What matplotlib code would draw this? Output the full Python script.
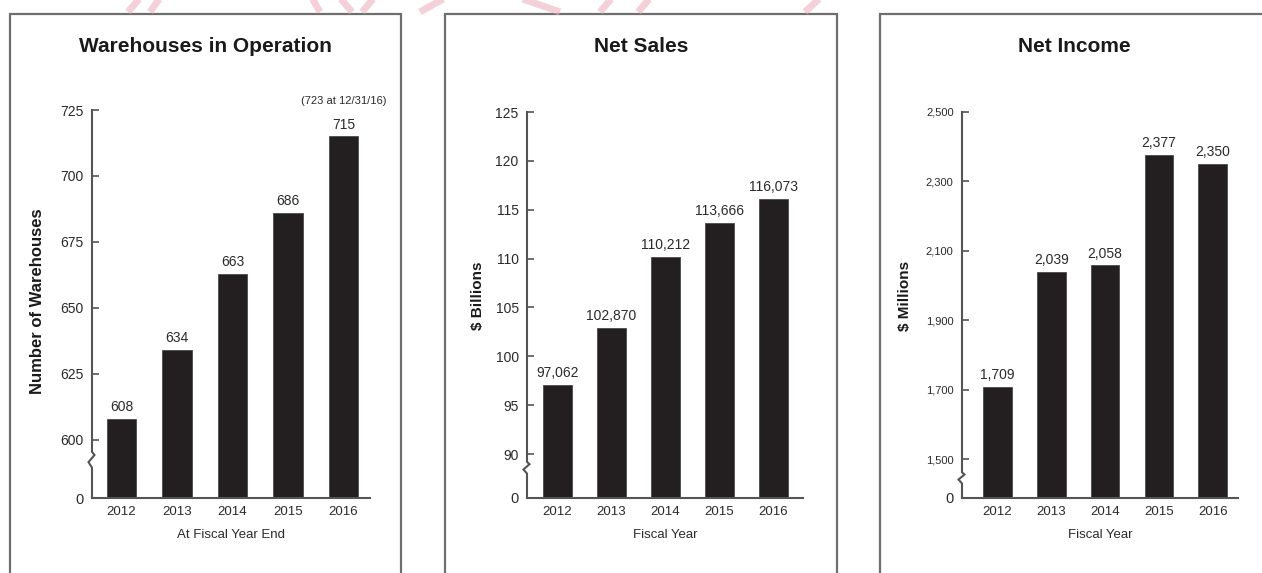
import matplotlib
matplotlib.use("Agg")
import matplotlib.pyplot as plt
from matplotlib.patches import Rectangle
from matplotlib.lines import Line2D

plt.rcParams['font.family'] = ['Liberation Sans', 'DejaVu Sans']

# data
years = ['2012', '2013', '2014', '2015', '2016']
warehouses = [608, 634, 663, 686, 715]
net_sales_mil = [97062, 102870, 110212, 113666, 116073]   # $ millions
net_income_mil = [1709, 2039, 2058, 2377, 2350]

wh_ticks = [600, 625, 650, 675, 700, 725]
ns_ticks = [90, 95, 100, 105, 110, 115, 120, 125]
ni_ticks = [1500, 1700, 1900, 2100, 2300, 2500]

W, H = 1262, 573
fig = plt.figure(figsize=(W / 100, H / 100), dpi=100)

BAR = '#231f20'
AXC = '#555555'
TXT = '#2a2a2a'


def px_axes(x0, x1, y_top, y_bot):
    return fig.add_axes([x0 / W, 1 - y_bot / H, (x1 - x0) / W, (y_bot - y_top) / H])


def panel(ax, heights, labels, floor, top, ticks, ticklabels, brk, xlim, tick_fs):
    x = list(range(len(years)))
    ax.bar(x, [h - floor for h in heights], bottom=floor, width=0.53,
           color=BAR, edgecolor='#4a4a4a', linewidth=0.6, zorder=2)
    for i, (h, lab) in enumerate(zip(heights, labels)):
        ax.annotate(lab, (i, h), xytext=(0, 3.5), textcoords='offset points',
                    ha='center', va='bottom', fontsize=10, color=TXT)
    ax.set_xlim(*xlim)
    ax.set_ylim(floor, top)
    ax.set_xticks(x)
    ax.set_xticklabels(years, fontsize=9.5, color=TXT)
    ax.tick_params(axis='x', length=0, pad=6)
    ax.set_yticks([floor] + ticks)
    ax.set_yticklabels(['0'] + ticklabels, fontsize=tick_fs, color=TXT)
    ax.get_yticklabels()[0].set_fontsize(10.5)
    ax.tick_params(axis='y', direction='in', length=5, width=1.2, color=AXC, pad=6)
    for s in ['top', 'right', 'left']:
        ax.spines[s].set_visible(False)
    ax.spines['bottom'].set_color(AXC)
    ax.spines['bottom'].set_linewidth(1.5)
    ax.patch.set_alpha(0)

    # left axis line with a zigzag break between the floor and the first tick
    bbox = ax.get_window_extent()
    d = 1.0 / bbox.width
    hi, lo = brk
    mid = (hi + lo) / 2
    xs = [0, 0, 2.5 * d, -3.5 * d, 0, 0]
    ys = [top, hi, hi - (hi - lo) * 0.2, mid - (hi - lo) * 0.15, lo, floor]
    ax.plot(xs, ys, color=AXC, lw=1.5, transform=ax.get_yaxis_transform(),
            clip_on=False, solid_joinstyle='miter', zorder=3)
    # hide the '0' tick mark
    ax.yaxis.get_major_ticks()[0].tick1line.set_visible(False)


# panel frames
for x0, x1 in [(10, 401), (445, 837), (880, 1268)]:
    fig.add_artist(Rectangle((x0 / W, -0.05), (x1 - x0) / W, 1 - 14 / H + 0.05,
                             transform=fig.transFigure, fill=False,
                             edgecolor='#6e6e6e', linewidth=1.6))

# Warehouses in Operation
ax1 = px_axes(92, 370, 110, 498)
panel(ax1, warehouses, [str(v) for v in warehouses], 578, 725, wh_ticks,
      [str(t) for t in wh_ticks], (595.5, 589.5), (-0.53, 4.48), 10)
ax1.annotate('(723 at 12/31/16)', (4, warehouses[-1]), xytext=(0, 22),
             textcoords='offset points', ha='center', va='bottom',
             fontsize=8, color=TXT)
fig.text(205.5 / W, 1 - 46 / H, 'Warehouses in Operation', ha='center',
         va='center', fontsize=15, fontweight='bold', color='#1a1a1a')
fig.text(38 / W, 1 - 301 / H, 'Number of Warehouses', rotation=90,
         ha='center', va='center', fontsize=12, fontweight='bold', color='#1a1a1a')
fig.text(231 / W, 1 - 535 / H, 'At Fiscal Year End', ha='center',
         va='center', fontsize=9.5, color=TXT)

# Net Sales
ax2 = px_axes(527, 803, 112, 498)
panel(ax2, [v / 1000 for v in net_sales_mil], [f'{v:,}' for v in net_sales_mil],
      85.5, 125, ns_ticks, [str(t) for t in ns_ticks], (89.2, 88.0),
      (-0.56, 4.55), 10)
fig.text(641 / W, 1 - 46 / H, 'Net Sales', ha='center', va='center',
         fontsize=15, fontweight='bold', color='#1a1a1a')
fig.text(478 / W, 1 - 296 / H, '$ Billions', rotation=90, ha='center',
         va='center', fontsize=11, fontweight='bold', color='#1a1a1a')
fig.text(665 / W, 1 - 535 / H, 'Fiscal Year', ha='center', va='center',
         fontsize=9.5, color=TXT)

# Net Income
ax3 = px_axes(962, 1238, 112, 498)
panel(ax3, net_income_mil, [f'{v:,}' for v in net_income_mil], 1388, 2500,
      ni_ticks, [f'{t:,}' for t in ni_ticks], (1462, 1430), (-0.66, 4.47), 8)
fig.text(1074 / W, 1 - 46 / H, 'Net Income', ha='center', va='center',
         fontsize=15, fontweight='bold', color='#1a1a1a')
fig.text(905 / W, 1 - 296 / H, '$ Millions', rotation=90, ha='center',
         va='center', fontsize=11, fontweight='bold', color='#1a1a1a')
fig.text(1100 / W, 1 - 535 / H, 'Fiscal Year', ha='center', va='center',
         fontsize=9.5, color=TXT)

# faint pink watermark strokes along the top edge
strokes = [((128, 12), (140, -2)), ((150, 12), (160, -2)),
           ((312, -2), (320, 12)), ((340, -2), (352, 12)), ((362, 12), (374, -2)),
           ((420, 12), (445, -2)), ((445, -2), (520, -2)), ((520, -2), (560, 12)),
           ((600, 12), (612, -2)), ((638, 12), (650, -2)), ((805, 12), (820, -2))]
for (xa, ya), (xb, yb) in strokes:
    fig.add_artist(Line2D([xa / W, xb / W], [1 - ya / H, 1 - yb / H],
                          transform=fig.transFigure, color='#eeb3c0',
                          lw=5, alpha=0.6, solid_capstyle='butt'))

fig.savefig('out.png', dpi=100, facecolor='white')
